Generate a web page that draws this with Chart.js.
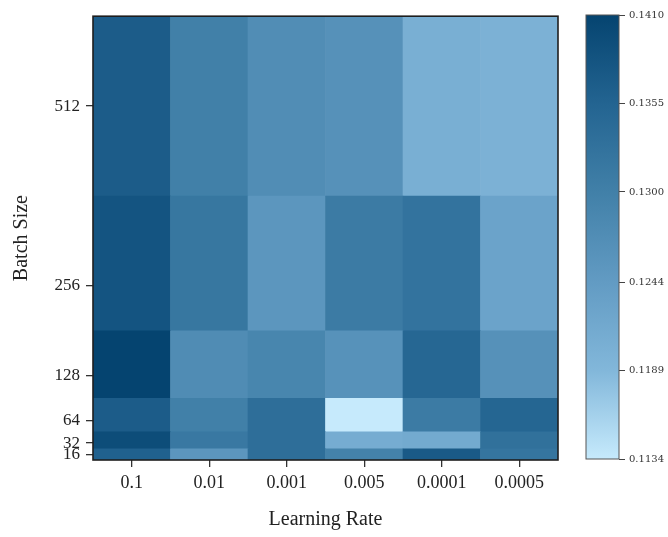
<!DOCTYPE html>
<html>
<head>
<meta charset="utf-8">
<script src="https://cdn.jsdelivr.net/npm/chart.js@4.4.0/dist/chart.umd.min.js"></script>
<style>
html, body { margin: 0; padding: 0; background: #fff; }
#wrap { position: relative; width: 668px; height: 537px; }
#heat { position: absolute; left: 0; top: 0; }
#cbar { position: absolute; left: 560px; top: 0; }
</style>
</head>
<body>
<div id="wrap">
  <canvas id="heat" width="668" height="537" style="width:668px;height:537px"></canvas>
  <canvas id="cbar" width="108" height="537" style="width:108px;height:537px"></canvas>
</div>
<script>
// columns and rows of the grid
const learningRates = ['0.1', '0.01', '0.001', '0.005', '0.0001', '0.0005'];
const batchSizes = [16, 32, 64, 128, 256, 512];
// cell edges on the batch size axis (midpoints between sizes)
const rowEdges = [8, 24, 48, 96, 192, 384, 640];

// loss per learning rate, one list per batch size
const loss16  = [0.1360, 0.1255, 0.1335, 0.1295, 0.1372, 0.1322];
const loss32  = [0.1395, 0.1315, 0.1335, 0.1210, 0.1215, 0.1330];
const loss64  = [0.1368, 0.1300, 0.1335, 0.1134, 0.1310, 0.1352];
const loss128 = [0.1410, 0.1275, 0.1288, 0.1262, 0.1350, 0.1264];
const loss256 = [0.1382, 0.1318, 0.1255, 0.1310, 0.1325, 0.1228];
const loss512 = [0.1368, 0.1300, 0.1272, 0.1265, 0.1205, 0.1200];
const lossRows = [loss16, loss32, loss64, loss128, loss256, loss512];

// colour bar
const cbarTicks = [0.1134, 0.1189, 0.1244, 0.1300, 0.1355, 0.1410];
const cmapValues = [0.1134, 0.1189, 0.1244, 0.1300, 0.1355, 0.1410];
const cmapColors = ['#c6eafc', '#82b7da', '#629bc3', '#4180a8', '#236491', '#054470'];

const serif = "'Liberation Serif', 'Times New Roman', serif";
const textColor = '#222';

function hexToRgb(h) {
    return [1, 3, 5].map(i => parseInt(h.substr(i, 2), 16));
}

function colorFor(v) {
    const lo = cmapValues[0], hi = cmapValues[cmapValues.length - 1];
    v = Math.min(hi, Math.max(lo, v));
    for (let i = 0; i < cmapValues.length - 1; i++) {
        if (v <= cmapValues[i + 1]) {
            const t = (v - cmapValues[i]) / (cmapValues[i + 1] - cmapValues[i]);
            const a = hexToRgb(cmapColors[i]), b = hexToRgb(cmapColors[i + 1]);
            const c = a.map((x, k) => Math.round(x + (b[k] - x) * t));
            return `rgb(${c[0]},${c[1]},${c[2]})`;
        }
    }
    return cmapColors[cmapColors.length - 1];
}

// box round the plot area
const framePlugin = {
    id: 'frame',
    afterDatasetsDraw(chart, args, opts) {
        const { ctx, chartArea: a } = chart;
        ctx.save();
        ctx.strokeStyle = opts.color;
        ctx.lineWidth = opts.width;
        ctx.strokeRect(a.left, a.top, a.right - a.left, a.bottom - a.top);
        ctx.restore();
    }
};

const heatDatasets = lossRows.map((row, r) => ({
    label: 'Batch ' + batchSizes[r],
    data: row.map(() => [rowEdges[r], rowEdges[r + 1]]),
    backgroundColor: row.map(colorFor),
    borderWidth: 0,
    barPercentage: 1,
    categoryPercentage: 1,
    grouped: false
}));

new Chart(document.getElementById('heat'), {
    type: 'bar',
    data: { labels: learningRates, datasets: heatDatasets },
    plugins: [framePlugin],
    options: {
        responsive: false,
        animation: false,
        layout: { padding: { left: 0, top: 14, right: 110, bottom: 0 } },
        plugins: {
            legend: { display: false },
            tooltip: { enabled: false },
            frame: { color: '#1e1e1e', width: 1.6 }
        },
        scales: {
            x: {
                grid: { offset: false, drawOnChartArea: false, drawTicks: true, tickLength: 7, color: '#333', lineWidth: 1.3 },
                border: { display: false },
                ticks: { color: textColor, font: { family: serif, size: 18 }, padding: 5, maxRotation: 0 },
                title: { display: true, text: 'Learning Rate', color: textColor, font: { family: serif, size: 20 }, padding: { top: 0, bottom: 5 } },
                afterFit: s => { s.height = 77; }
            },
            y: {
                type: 'linear',
                min: rowEdges[0],
                max: rowEdges[rowEdges.length - 1],
                afterBuildTicks: s => { s.ticks = batchSizes.map(v => ({ value: v })); },
                grid: { drawOnChartArea: false, drawTicks: true, tickLength: 7, color: '#333', lineWidth: 1.3 },
                border: { display: false },
                ticks: { color: textColor, font: { family: serif, size: 17 }, padding: 6, autoSkip: false },
                title: { display: true, text: 'Batch Size', color: textColor, font: { family: serif, size: 20 }, padding: { top: 10, bottom: 0 } },
                afterFit: s => { s.width = 93; }
            }
        }
    }
});

// colour bar as one floating bar with a gradient fill
new Chart(document.getElementById('cbar'), {
    type: 'bar',
    data: {
        labels: [''],
        datasets: [{
            data: [[cbarTicks[0], cbarTicks[cbarTicks.length - 1]]],
            backgroundColor: ctx => {
                const a = ctx.chart.chartArea;
                if (!a) return cmapColors[0];
                const ys = ctx.chart.scales.y;
                const g = ctx.chart.ctx.createLinearGradient(0, a.bottom, 0, a.top);
                const span = a.bottom - a.top;
                cmapValues.forEach((v, i) => {
                    g.addColorStop((a.bottom - ys.getPixelForValue(v)) / span, cmapColors[i]);
                });
                return g;
            },
            borderWidth: 0,
            barPercentage: 1,
            categoryPercentage: 1
        }]
    },
    plugins: [framePlugin],
    options: {
        responsive: false,
        animation: false,
        layout: { padding: { left: 26, top: 15, right: 0, bottom: 78 } },
        plugins: {
            legend: { display: false },
            tooltip: { enabled: false },
            frame: { color: '#555', width: 1 }
        },
        scales: {
            x: { display: false },
            y: {
                position: 'right',
                type: 'linear',
                min: cbarTicks[0],
                max: cbarTicks[cbarTicks.length - 1],
                afterBuildTicks: s => { s.ticks = cbarTicks.map(v => ({ value: v })); },
                grid: { drawOnChartArea: false, drawTicks: true, tickLength: 6, color: '#444', lineWidth: 1 },
                border: { display: false },
                ticks: { color: '#333', font: { family: "'DejaVu Serif', serif", size: 10 }, padding: 4, autoSkip: false,
                         callback: v => v.toFixed(4) },
                afterFit: s => { s.width = 49; }
            }
        }
    }
});
</script>
</body>
</html>
